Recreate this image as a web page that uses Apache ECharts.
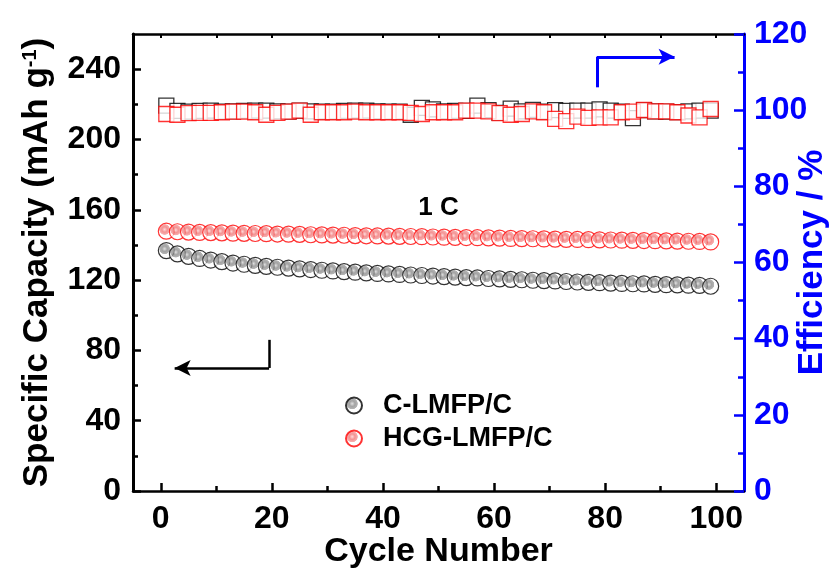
<!DOCTYPE html>
<html>
<head>
<meta charset="utf-8">
<script src="https://cdn.jsdelivr.net/npm/echarts@6/dist/echarts.min.js"></script>
<style>
html, body { margin: 0; padding: 0; background: #fff; }
#chart { width: 834px; height: 576px; }
</style>
</head>
<body>
<div id="chart"></div>
<script>
// cycle numbers of the plotted points
const cycles = [1, 3, 5, 7, 9, 11, 13, 15, 17, 19, 21, 23, 25, 27, 29, 31, 33, 35, 37, 39,
  41, 43, 45, 47, 49, 51, 53, 55, 57, 59, 61, 63, 65, 67, 69, 71, 73, 75, 77, 79,
  81, 83, 85, 87, 89, 91, 93, 95, 97, 99];

// specific capacity, mAh/g
const capC = [136.8, 134.9, 133.5, 132.3, 131.4, 130.5, 129.7, 129.0, 128.4, 127.8,
  127.3, 126.8, 126.4, 126.0, 125.6, 125.2, 124.8, 124.5, 124.1, 123.8,
  123.5, 123.2, 122.9, 122.6, 122.3, 122.0, 121.7, 121.4, 121.2, 120.9,
  120.7, 120.4, 120.2, 119.9, 119.7, 119.5, 119.2, 118.9, 118.7, 118.5,
  118.3, 118.1, 117.9, 117.8, 117.6, 117.4, 117.3, 117.1, 117.0, 116.5];
const capHCG = [147.8, 147.5, 147.3, 147.1, 147.0, 146.9, 146.7, 146.6, 146.5, 146.4,
  146.2, 146.1, 146.0, 145.8, 145.7, 145.6, 145.5, 145.3, 145.2, 145.1,
  145.0, 144.9, 144.8, 144.7, 144.5, 144.4, 144.3, 144.2, 144.1, 144.0,
  143.9, 143.7, 143.6, 143.5, 143.4, 143.3, 143.2, 143.1, 143.0, 142.9,
  142.8, 142.7, 142.6, 142.5, 142.4, 142.3, 142.2, 142.1, 142.0, 141.7];

// coulombic efficiency, %
const effC = [101.2, 99.8, 99.6, 99.8, 99.9, 99.6, 99.7, 99.8, 99.9, 99.9,
  99.7, 99.6, 99.9, 99.7, 99.6, 99.6, 99.8, 99.9, 99.9, 99.7,
  99.6, 99.6, 98.8, 100.6, 100.2, 99.7, 99.8, 99.8, 101.2, 100.0,
  99.3, 100.4, 99.7, 100.1, 99.6, 100.0, 99.8, 99.9, 99.9, 100.2,
  99.9, 99.6, 97.9, 100.0, 99.7, 99.6, 99.5, 99.7, 99.9, 99.9];
const effHCG = [99.0, 98.8, 99.2, 99.3, 99.3, 99.45, 99.6, 99.6, 99.45, 98.8,
  99.3, 99.6, 99.9, 98.8, 99.45, 99.45, 99.45, 99.6, 99.45, 99.45,
  99.45, 99.45, 99.3, 99.0, 99.45, 99.45, 99.45, 99.9, 99.9, 99.7,
  99.2, 98.8, 99.0, 99.7, 99.45, 97.7, 97.1, 98.3, 97.95, 98.1,
  98.1, 99.45, 99.6, 100.05, 99.7, 99.7, 99.45, 98.6, 98.1, 100.3];

// ticks
const xTicks = [0, 20, 40, 60, 80, 100];
const xMinorTicks = [10, 30, 50, 70, 90];
const xTopTicks = [0, 10, 20, 30, 40, 50, 60, 70, 80, 90, 100];
const capTicks = [0, 40, 80, 120, 160, 200, 240];
const capMinorTicks = [20, 60, 100, 140, 180, 220];

const FONT = '"Liberation Sans", Arial, sans-serif';
const BLUE = '#0000ff';

const chart = echarts.init(document.getElementById('chart'));

const pairs = vals => cycles.map((c, i) => [c, vals[i]]);

const ball = (hi, mid, dark) => ({
  type: 'radial', x: 0.4, y: 0.4, r: 0.34,
  colorStops: [
    { offset: 0, color: hi },
    { offset: 0.45, color: mid },
    { offset: 0.85, color: dark },
    { offset: 0.95, color: '#ffffff' },
    { offset: 1, color: '#ffffff' }
  ]
});

const options = {
  animation: false,
  backgroundColor: '#fff',
  textStyle: { fontFamily: FONT },
  grid: { left: 133, right: 90, top: 34, bottom: 85, outerBoundsMode: 'none', containLabel: false },
  legend: {
    left: 340, top: 387, orient: 'vertical',
    itemWidth: 16, itemHeight: 16, itemGap: 6,
    data: ['C-LMFP/C', 'HCG-LMFP/C'],
    textStyle: { fontFamily: FONT, fontWeight: 'bold', fontSize: 27, color: '#000', padding: [0, 0, 0, 16], lineHeight: 27 }
  },
  xAxis: [
    {
      type: 'value', min: -5, max: 105, position: 'bottom',
      axisLine: { show: true, onZero: false, lineStyle: { color: '#000', width: 2.5 } },
      axisTick: { inside: true, length: 8, customValues: xTicks, lineStyle: { color: '#000', width: 2.5 } },
      axisLabel: { customValues: xTicks, color: '#000', fontFamily: FONT, fontWeight: 'bold', fontSize: 32, margin: 12 },
      splitLine: { show: false },
      name: 'Cycle Number', nameLocation: 'middle', nameGap: 44, nameMoveOverlap: false,
      nameTextStyle: { fontFamily: FONT, fontWeight: 'bold', fontSize: 34, color: '#000' }
    },
    {
      type: 'value', min: -5, max: 105, position: 'bottom',
      axisLine: { show: false, onZero: false },
      axisTick: { inside: true, length: 5, customValues: xMinorTicks, lineStyle: { color: '#000', width: 2.5 } },
      axisLabel: { show: false },
      splitLine: { show: false }
    },
    {
      type: 'value', min: -5, max: 105, position: 'top',
      axisLine: { show: true, onZero: false, lineStyle: { color: '#000', width: 2.5 } },
      axisTick: { inside: true, length: 4, customValues: xTopTicks, lineStyle: { color: '#000', width: 2 } },
      axisLabel: { show: false },
      splitLine: { show: false }
    }
  ],
  yAxis: [
    {
      type: 'value', min: 0, max: 260, position: 'left',
      axisLine: { show: true, onZero: false, lineStyle: { color: '#000', width: 3 } },
      axisTick: { inside: true, length: 8, customValues: capTicks, lineStyle: { color: '#000', width: 2.5 } },
      axisLabel: { customValues: capTicks, color: '#000', fontFamily: FONT, fontWeight: 'bold', fontSize: 32, margin: 12 },
      splitLine: { show: false },
      name: 'Specific Capacity (mAh g{sup|-1})', nameLocation: 'middle', nameRotate: 90, nameGap: 78, nameMoveOverlap: false,
      nameTextStyle: {
        fontFamily: FONT, fontWeight: 'bold', fontSize: 35, color: '#000',
        rich: { sup: { fontFamily: FONT, fontWeight: 'bold', fontSize: 20, color: '#000', verticalAlign: 'top', padding: [0, 0, 14, 0] } }
      }
    },
    {
      type: 'value', min: 0, max: 120, interval: 20, position: 'right',
      axisLine: { show: true, onZero: false, lineStyle: { color: BLUE, width: 3 } },
      axisTick: { inside: true, length: 10, lineStyle: { color: BLUE, width: 2.5 } },
      minorTick: { show: true, splitNumber: 2, length: 6, lineStyle: { color: BLUE, width: 2.5 } },
      axisLabel: { color: BLUE, fontFamily: FONT, fontWeight: 'bold', fontSize: 32, margin: 10 },
      splitLine: { show: false },
      name: 'Efficiency / %', nameLocation: 'middle', nameRotate: 90, nameGap: 51, nameMoveOverlap: false,
      nameTextStyle: { fontFamily: FONT, fontWeight: 'bold', fontSize: 35, color: BLUE }
    },
    {
      type: 'value', min: 0, max: 260, position: 'left',
      axisLine: { show: false, onZero: false },
      axisTick: { inside: true, length: 5, customValues: capMinorTicks, lineStyle: { color: '#000', width: 2.5 } },
      axisLabel: { show: false },
      splitLine: { show: false }
    }
  ],
  series: [
    {
      name: 'C-LMFP/C eff', type: 'scatter', xAxisIndex: 0, yAxisIndex: 1,
      symbol: 'rect', symbolSize: 15, data: pairs(effC),
      itemStyle: { color: '#fff', borderColor: '#000', borderWidth: 1.3 },
      markLine: {
        silent: true, symbol: ['none', 'none'],
        lineStyle: { color: BLUE, width: 3, type: 'solid' },
        label: { show: false },
        data: [
          [{ coord: [78.5, 106] }, { coord: [78.5, 114] }],
          [{ coord: [78.5, 114] }, { coord: [92.5, 114], symbol: 'arrow', symbolSize: [12, 16] }]
        ]
      }
    },
    {
      name: 'HCG-LMFP/C eff', type: 'scatter', xAxisIndex: 0, yAxisIndex: 1,
      symbol: 'rect', symbolSize: 15, data: pairs(effHCG),
      itemStyle: { color: '#fff', borderColor: '#ff0000', borderWidth: 1.3 }
    },
    {
      name: 'C-LMFP/C', type: 'scatter', xAxisIndex: 0, yAxisIndex: 0,
      symbol: 'circle', symbolSize: 16, data: pairs(capC),
      itemStyle: { color: ball('#d8d8d8', '#8c8c8c', '#a0a0a0'), borderColor: '#000', borderWidth: 1.2 },
      markLine: {
        silent: true, symbol: ['none', 'none'],
        lineStyle: { color: '#000', width: 2.5, type: 'solid' },
        label: { show: false },
        data: [
          [{ coord: [19.5, 86] }, { coord: [19.5, 70] }],
          [{ coord: [19.5, 70] }, { coord: [2.5, 70], symbol: 'arrow', symbolSize: [12, 16] }]
        ]
      }
    },
    {
      name: 'HCG-LMFP/C', type: 'scatter', xAxisIndex: 0, yAxisIndex: 0,
      symbol: 'circle', symbolSize: 16, data: pairs(capHCG),
      itemStyle: { color: ball('#ffd0d0', '#f07878', '#f49a9a'), borderColor: '#ff0000', borderWidth: 1.2 },
      markPoint: {
        silent: true, symbol: 'circle', symbolSize: 0,
        label: { show: true, formatter: '1 C', color: '#000', fontFamily: FONT, fontWeight: 'bold', fontSize: 26 },
        data: [{ coord: [50, 161] }]
      }
    }
  ]
};

chart.setOption(options);
</script>
</body>
</html>
